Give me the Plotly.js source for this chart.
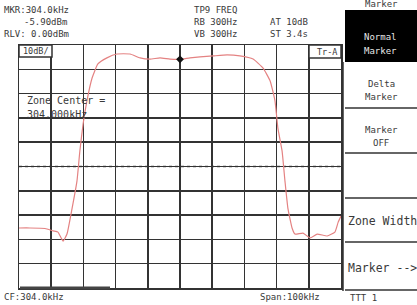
<!DOCTYPE html>
<html>
<head>
<meta charset="utf-8">
<script src="https://cdn.plot.ly/plotly-3.0.1.min.js"></script>
<style>html,body{margin:0;padding:0;background:#fff;overflow:hidden}#chart{width:417px;height:305px}</style>
</head>
<body>
<div id="chart"></div>
<script>
// Trace data (frequency in kHz, level in dBm)
const freqKHz = [254.0, 257.4, 262.1, 264.6, 266.1, 267.7, 268.9, 270.5, 272.0, 272.9, 273.9, 275.1, 276.7, 278.5, 281.3, 284.4, 288.5, 291.6, 294.7, 297.8, 300.9, 304.0, 307.1, 310.2, 314.3, 318.6, 322.6, 326.7, 329.8, 332.0, 333.5, 334.4, 335.7, 336.6, 337.5, 338.8, 339.7, 342.2, 344.4, 346.6, 349.7, 352.1, 353.1, 354.0];
const levelDbm = [-75.3, -75.3, -75.5, -76.5, -77.0, -80.7, -77.8, -67.1, -56.0, -43.6, -32.5, -23.0, -13.6, -7.8, -5.3, -3.7, -3.7, -5.3, -5.8, -5.3, -5.8, -5.9, -5.3, -4.9, -4.5, -4.1, -4.5, -5.8, -9.5, -14.8, -23.0, -34.2, -43.6, -56.0, -67.1, -75.3, -77.8, -77.4, -79.4, -77.8, -78.6, -77.0, -73.0, -70.4];
const markerFreq = [304.0];
const markerLevel = [-5.9];
const centerFreq = 304.0;
const spanKHz = 100;
const refLevel = 0;
const dbPerDiv = 10;

const headerLeft = ["MKR:304.0kHz", "-5.90dBm", "RLV: 0.00dBm"];
const headerMid = ["TP9 FREQ", "RB 300Hz", "VB 300Hz"];
const headerRight = ["", "AT 10dB", "ST 3.4s"];
const footerLeft = "CF:304.0kHz";
const footerRight = "Span:100kHz";
const menuTitle = "Marker";

// plot area in pixels
const L = 19, R = 341, T = 45, B = 288;
const W = 417, H = 305;
const px = x => (x - L) / (R - L);
const py = y => (B - y) / (B - T);
const TXT = '#3a3a3a';
const FONT = 'DejaVu Sans Mono';

function ann(text, x, y, anchor, opts) {
  opts = opts || {};
  return {
    text: text, x: px(x), y: py(y), xref: 'paper', yref: 'paper',
    xanchor: anchor || 'left', yanchor: 'middle', showarrow: false,
    font: {family: FONT, size: opts.size || 9, color: opts.color || TXT}
  };
}

const xmin = centerFreq - spanKHz / 2, xmax = centerFreq + spanKHz / 2;
const ymax = refLevel, ymin = refLevel - 10 * dbPerDiv;

const traces = [
  {x: freqKHz, y: levelDbm, type: 'scatter', mode: 'lines',
   line: {color: '#e48282', width: 1.2, shape: 'spline', smoothing: 0.4}, hoverinfo: 'skip'},
  {x: markerFreq, y: markerLevel, type: 'scatter', mode: 'markers',
   marker: {symbol: 'diamond', size: 6, color: '#111'}, hoverinfo: 'skip'}
];

const annotations = [];
[10, 22, 34].forEach((y, i) => {
  if (i === 1) annotations.push(ann(headerLeft[i], 69, y, 'right'));
  else annotations.push(ann(headerLeft[i], 2, y, 'left'));
  annotations.push(ann(headerMid[i], 192, y, 'left'));
  if (headerRight[i]) annotations.push(ann(headerRight[i], 268, y, 'left'));
});
annotations.push(ann("10dB/", 21, 51, 'left', {size: 8.5}));
annotations.push(ann("Tr-A", 339, 52, 'right', {size: 8.5}));
annotations.push(ann("Zone Center =", 25, 100, 'left', {size: 10}));
annotations.push(ann("304.000kHz", 25, 114, 'left', {size: 10}));
annotations.push(ann(footerLeft, 2, 297, 'left'));
annotations.push(ann(footerRight, 322, 297, 'right'));
annotations.push(ann(menuTitle, 381, 4, 'center', {size: 9}));
annotations.push(ann("Normal", 380, 37, 'center', {size: 9, color: '#e8e8e8'}));
annotations.push(ann("Marker", 380, 51, 'center', {size: 9, color: '#e8e8e8'}));
annotations.push(ann("Delta", 381, 84, 'center', {size: 9}));
annotations.push(ann("Marker", 381, 97, 'center', {size: 9}));
annotations.push(ann("Marker", 381, 130, 'center', {size: 9}));
annotations.push(ann("OFF", 381, 143, 'center', {size: 9}));
annotations.push(ann("Zone Width", 346, 221, 'left', {size: 11.5}));
annotations.push(ann("Marker -->", 346, 268, 'left', {size: 11.5}));
annotations.push(ann("TTT 1", 348, 298, 'left', {size: 9}));

const shapes = [];
function pline(x0, y0, x1, y1, color, width, dash, layer) {
  shapes.push({type: 'line', xref: 'paper', yref: 'paper', x0: px(x0), y0: py(y0), x1: px(x1), y1: py(y1),
    line: {color: color, width: width, dash: dash || 'solid'}, layer: layer || 'above'});
}
// dashed center lines
shapes.push({type: 'line', xref: 'x', yref: 'paper', x0: centerFreq, x1: centerFreq, y0: 0, y1: 1,
  line: {color: '#fff', width: 2.5}, layer: 'between'});
shapes.push({type: 'line', xref: 'x', yref: 'paper', x0: centerFreq, x1: centerFreq, y0: 0, y1: 1,
  line: {color: '#555', width: 1.5, dash: 'dot'}, layer: 'between'});
shapes.push({type: 'line', xref: 'paper', yref: 'y', x0: 0, x1: 1, y0: refLevel - 5 * dbPerDiv, y1: refLevel - 5 * dbPerDiv,
  line: {color: '#fff', width: 2.5}, layer: 'between'});
shapes.push({type: 'line', xref: 'paper', yref: 'y', x0: 0, x1: 1, y0: refLevel - 5 * dbPerDiv, y1: refLevel - 5 * dbPerDiv,
  line: {color: '#555', width: 1.5, dash: 'dot'}, layer: 'between'});
// scale box and trace box
shapes.push({type: 'rect', xref: 'paper', yref: 'paper', x0: px(19), x1: px(52), y0: py(57), y1: py(45),
  line: {color: '#333', width: 1.5}, fillcolor: '#fff', layer: 'above'});
shapes.push({type: 'rect', xref: 'paper', yref: 'paper', x0: px(309), x1: px(341), y0: py(58), y1: py(45),
  line: {color: '#333', width: 1.5}, fillcolor: '#fff', layer: 'above'});
// bottom status bar
pline(20, 288, 110, 288, '#444', 3);
// menu
shapes.push({type: 'rect', xref: 'paper', yref: 'paper', x0: px(345), x1: px(418), y0: py(62), y1: py(10),
  line: {width: 0}, fillcolor: '#000', layer: 'above'});
pline(343, 62, 343, 291, '#333', 1.5);
[108, 153, 198, 242, 290].forEach(y => pline(345, y, 418, y, '#333', 1.5));

const layout = {
  width: W, height: H,
  margin: {l: L, r: W - R, t: T, b: H - B, pad: 0},
  paper_bgcolor: '#fff', plot_bgcolor: '#fff',
  showlegend: false,
  xaxis: {range: [xmin, xmax], tick0: xmin, dtick: spanKHz / 10, showticklabels: false, ticks: '',
    showgrid: true, gridcolor: '#333', gridwidth: 1.5, zeroline: false,
    showline: true, mirror: true, linecolor: '#333', linewidth: 1.5, fixedrange: true},
  yaxis: {range: [ymin, ymax], tick0: ymin, dtick: dbPerDiv, showticklabels: false, ticks: '',
    showgrid: true, gridcolor: '#333', gridwidth: 1.5, zeroline: false,
    showline: true, mirror: true, linecolor: '#333', linewidth: 1.5, fixedrange: true},
  annotations: annotations,
  shapes: shapes
};

Plotly.newPlot('chart', traces, layout, {staticPlot: true, displayModeBar: false});
</script>
</body>
</html>
